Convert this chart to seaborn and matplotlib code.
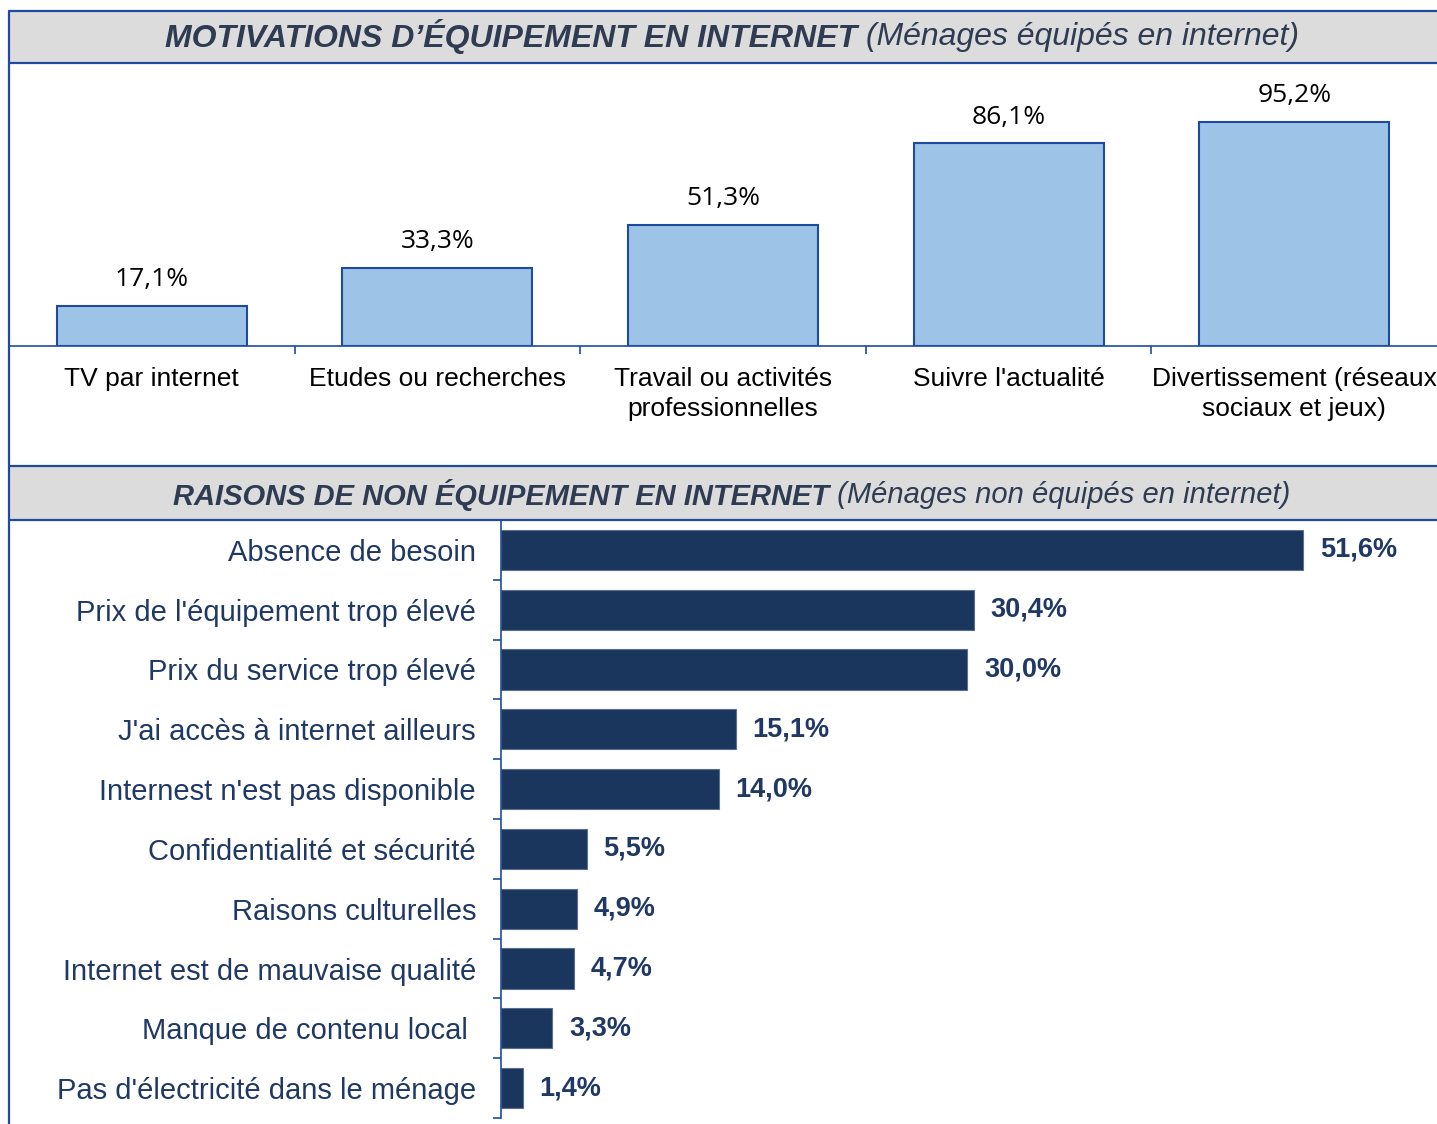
import matplotlib
matplotlib.use("Agg")
import matplotlib.pyplot as plt
import seaborn as sns
import numpy as np
from matplotlib.patches import Rectangle
from matplotlib.lines import Line2D

# Data
motiv_labels = ["TV par internet", "Etudes ou recherches", "Travail ou activités\nprofessionnelles",
                "Suivre l'actualité", "Divertissement (réseaux\nsociaux et jeux)"]
motiv_values = [17.1, 33.3, 51.3, 86.1, 95.2]

raison_labels = ["Absence de besoin", "Prix de l'équipement trop élevé", "Prix du service trop élevé",
                 "J'ai accès à internet ailleurs", "Internest n'est pas disponible",
                 "Confidentialité et sécurité", "Raisons culturelles",
                 "Internet est de mauvaise qualité", "Manque de contenu local ",
                 "Pas d'électricité dans le ménage"]
raison_values = [51.6, 30.4, 30.0, 15.1, 14.0, 5.5, 4.9, 4.7, 3.3, 1.4]

sns.set_theme(style="white")
plt.rcParams['font.family'] = ['Liberation Sans', 'DejaVu Sans']

W, H = 1437, 1124
BLUE = '#1E4BA0'
NAVY = '#1B365D'
TXT_NAVY = '#1F3864'
HEAD_TXT = '#2E3B52'


def fr(x0, y0, x1, y1):
    # pixel box (top-left origin) -> figure fraction rect
    return [x0 / W, 1 - y1 / H, (x1 - x0) / W, (y1 - y0) / H]


def fmt(v):
    return f"{v:.1f}".replace('.', ',') + '%'


fig = plt.figure(figsize=(W / 100, H / 100), dpi=100)

# header bands
for (y0, y1) in [(11, 63), (466, 520)]:
    fig.patches.append(Rectangle((9 / W, 1 - y1 / H), (W - 9) / W, (y1 - y0) / H,
                                 transform=fig.transFigure, facecolor='#DCDCDC',
                                 edgecolor='none', zorder=0))
    for yy in (y0, y1):
        fig.lines.append(Line2D([9 / W, 1], [1 - yy / H] * 2, transform=fig.transFigure,
                                color=BLUE, lw=1.6))
fig.lines.append(Line2D([9 / W] * 2, [0, 1 - 11 / H], transform=fig.transFigure,
                        color=BLUE, lw=1.6))

# top chart
ax1 = fig.add_axes(fr(9, 63, W, 346))
sns.barplot(x=motiv_labels, y=motiv_values, ax=ax1, color='#9DC3E6', saturation=1,
            edgecolor=BLUE, linewidth=1.5, width=0.665)
ax1.set_xlim(-0.5, 4.5)
ax1.set_ylim(0, 120.3)
ax1.set_yticks([])
ax1.set_xlabel('')
ax1.set_ylabel('')
for s in ['top', 'left', 'right']:
    ax1.spines[s].set_visible(False)
ax1.spines['bottom'].set_color(BLUE)
ax1.spines['bottom'].set_linewidth(1.2)
ax1.set_xticks([0.5, 1.5, 2.5, 3.5], minor=True)
ax1.tick_params(axis='x', which='minor', length=6, width=1.2, color=BLUE, direction='out', bottom=True)
ax1.tick_params(axis='x', which='major', length=0, pad=15, labelsize=19, labelcolor='black')
for lab in ax1.get_xticklabels():
    lab.set_linespacing(1.3)
ax1.patch.set_alpha(0)
ax1.bar_label(ax1.containers[0], labels=[fmt(v) for v in motiv_values], padding=10,
              fontsize=19, family=['Open Sans', 'DejaVu Sans'], color='black')

# bottom chart
ax2 = fig.add_axes(fr(501, 520, W, 1118))
sns.barplot(x=raison_values, y=raison_labels, orient='h', ax=ax2, color=NAVY, saturation=1,
            edgecolor='#5A6F8C', linewidth=0.8, width=0.67)
ax2.set_xlim(0, 60.2)
ax2.set_ylim(9.5, -0.5)
ax2.set_xticks([])
ax2.set_xlabel('')
ax2.set_ylabel('')
for s in ['top', 'bottom', 'right']:
    ax2.spines[s].set_visible(False)
ax2.spines['left'].set_color(BLUE)
ax2.spines['left'].set_linewidth(1.2)
ax2.set_yticks(np.arange(-0.5, 10, 1.0), minor=True)
ax2.tick_params(axis='y', which='minor', length=6, width=1.2, color=BLUE, direction='out', left=True)
ax2.tick_params(axis='y', which='major', length=0, pad=18, labelsize=21, labelcolor=TXT_NAVY)
ax2.patch.set_alpha(0)
ax2.bar_label(ax2.containers[0], labels=[fmt(v) for v in raison_values], padding=12,
              fontsize=19.5, fontweight='bold', color=TXT_NAVY)

# headers (bold italic part + italic part, centred together)
fig.canvas.draw()
renderer = fig.canvas.get_renderer()
for (yc, size, bold, rest) in [(37, 23, "MOTIVATIONS D\u2019ÉQUIPEMENT EN INTERNET", " (Ménages équipés en internet)"),
                               (495, 21, "RAISONS DE NON ÉQUIPEMENT EN INTERNET", " (Ménages non équipés en internet)")]:
    t1 = fig.text(0, 1 - yc / H, bold, fontsize=size, fontweight='bold', fontstyle='italic',
                  color=HEAD_TXT, va='center', ha='left')
    t2 = fig.text(0, 1 - yc / H, rest, fontsize=size, fontstyle='italic',
                  color=HEAD_TXT, va='center', ha='left')
    w1 = t1.get_window_extent(renderer).width
    w2 = t2.get_window_extent(renderer).width
    x0 = 732 - (w1 + w2) / 2
    t1.set_x(x0 / W)
    t2.set_x((x0 + w1) / W)

fig.savefig('out.png', dpi=100)
